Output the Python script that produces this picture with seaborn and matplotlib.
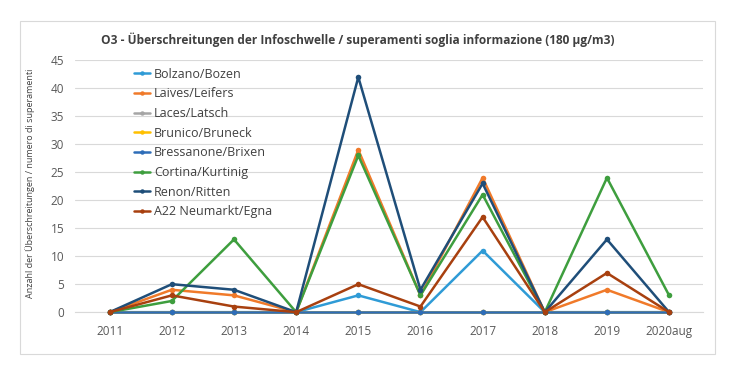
import matplotlib
matplotlib.use("Agg")
import matplotlib.pyplot as plt
import pandas as pd
import seaborn as sns
from matplotlib.patches import Rectangle

# data
years = ["2011", "2012", "2013", "2014", "2015", "2016", "2017", "2018", "2019", "2020aug"]
bolzano = [0, 0, 0, 0, 3, 0, 11, 0, 0, 0]
laives = [0, 4, 3, 0, 29, 3, 24, 0, 4, 0]
laces = [0, 0, 0, 0, 0, 0, 0, 0, 0, 0]
brunico = [0, 0, 0, 0, 0, 0, 0, 0, 0, 0]
bressanone = [0, 0, 0, 0, 0, 0, 0, 0, 0, 0]
cortina = [0, 2, 13, 0, 28, 3, 21, 0, 24, 3]
renon = [0, 5, 4, 0, 42, 4, 23, 0, 13, 0]
a22 = [0, 3, 1, 0, 5, 1, 17, 0, 7, 0]

stations = ["Bolzano/Bozen", "Laives/Leifers", "Laces/Latsch", "Brunico/Bruneck",
            "Bressanone/Brixen", "Cortina/Kurtinig", "Renon/Ritten", "A22 Neumarkt/Egna"]
series = [bolzano, laives, laces, brunico, bressanone, cortina, renon, a22]
colors = ["#2F9BD6", "#F07A2A", "#A5A5A5", "#FFC000",
          "#2E6DB8", "#3E9E3E", "#1F4E79", "#A8400F"]

rows = []
for name, vals in zip(stations, series):
    for i, (yr, v) in enumerate(zip(years, vals)):
        rows.append({"x": i, "year": yr, "station": name, "value": v})
df = pd.DataFrame(rows)

sns.set_style("white")
plt.rcParams["font.family"] = ["Open Sans", "DejaVu Sans"]

fig = plt.figure(figsize=(7.3, 3.77), dpi=100)
ax = fig.add_axes([0.1034, 0.172, 0.86, 0.668])

# chart frame like the Excel chart area
fig.patches.append(Rectangle((0.027, 0.06), 0.952, 0.885, transform=fig.transFigure,
                             fill=False, edgecolor="#D9D9D9", linewidth=0.8))

sns.lineplot(data=df, x="x", y="value", hue="station", hue_order=stations,
             palette=dict(zip(stations, colors)), marker="o", markersize=4,
             markeredgewidth=0, linewidth=1.8, ax=ax, legend=True)
for ln in ax.lines:
    ln.set_clip_on(False)
    ln.set_zorder(3)

ax.set_ylim(0, 45)
ax.set_yticks(range(0, 46, 5))
ax.set_xlim(-0.55, len(years) - 0.45)
ax.set_xticks(range(len(years)))
ax.set_xticklabels(years)
ax.yaxis.grid(True, color="#D9D9D9", linewidth=0.8)
ax.set_axisbelow(True)
for s in ["top", "right", "left"]:
    ax.spines[s].set_visible(False)
ax.spines["bottom"].set_color("#D9D9D9")
ax.spines["bottom"].set_zorder(1)
ax.tick_params(axis="both", colors="#595959", labelsize=8.5, length=0)
ax.tick_params(axis="x", pad=9)
ax.tick_params(axis="y", pad=8)
ax.set_xlabel("")
ax.set_ylabel("Anzahl der Überschreitungen / numero di superamenti",
              fontsize=6.5, color="#404040")
ax.yaxis.set_label_coords(-0.065, 0.51)

leg = ax.legend(loc="upper left", bbox_to_anchor=(0.075, 1.015), frameon=False,
                fontsize=9, handlelength=1.3, handletextpad=0.3,
                labelspacing=0.53, markerscale=0.8)
for t in leg.get_texts():
    t.set_color("#404040")

fig.text(0.49, 0.895, "O3 - Überschreitungen der Infoschwelle / superamenti soglia informazione (180 µg/m3)",
         ha="center", va="center", fontsize=8.6, fontweight="bold", color="#404040")

fig.savefig("out.png", dpi=100)
